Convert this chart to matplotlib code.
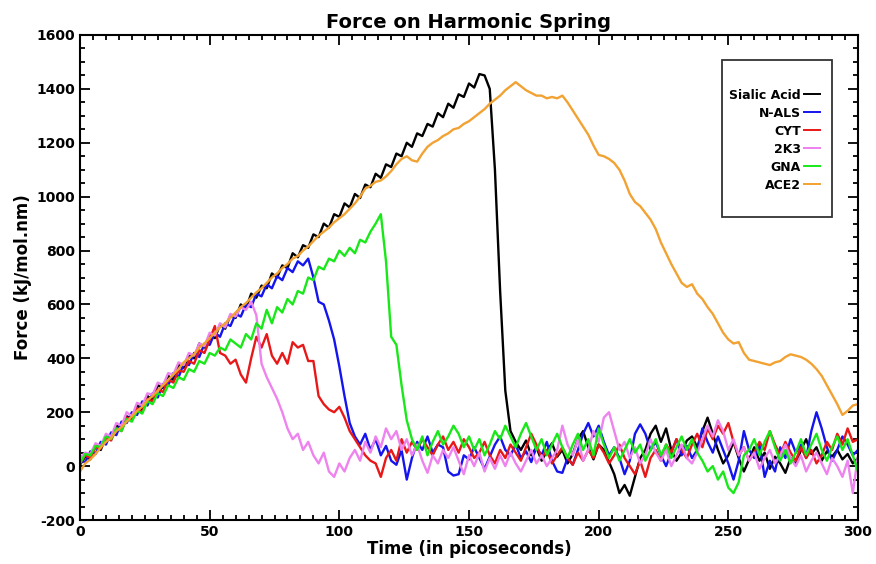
import numpy as np
import matplotlib
matplotlib.use('Agg')
import matplotlib.pyplot as plt
from matplotlib.ticker import MultipleLocator
from matplotlib.patches import Rectangle

plt.rcParams['font.family'] = ['DejaVu Sans']
plt.rcParams['font.weight'] = 'bold'
plt.rcParams['axes.unicode_minus'] = False

# time axis, one sample every 2 ps
TIME = list(range(0, 301, 2))

SIALIC_ACID = [
    5, 35, 25, 80, 60, 110, 100, 150, 140, 185,
    175, 225, 210, 260, 245, 300, 290, 335, 320, 375,
    365, 410, 400, 455, 440, 485, 475, 525, 510, 560,
    550, 600, 585, 640, 625, 670, 660, 715, 700, 745,
    735, 790, 775, 820, 810, 860, 850, 900, 885, 935,
    925, 975, 960, 1010, 995, 1045, 1035, 1085, 1070, 1120,
    1110, 1160, 1150, 1200, 1185, 1235, 1225, 1270, 1260, 1310,
    1295, 1345, 1330, 1380, 1370, 1420, 1405, 1455, 1450, 1400,
    1100, 650, 280, 130, 90, 60, 95, 40, 70, 20,
    55, 85, 35, 60, 10, 45, 100, 130, 70, 25,
    80, 60, 15, -30, -100, -70, -110, -40, 30, 60,
    120, 150, 90, 140, 60, 20, 50, 95, 110, 70,
    130, 180, 120, 60, 10, 40, 90, 30, -20, 25,
    70, 20, 50, -10, 35, 10, -25, 30, 5, 60,
    100, 45, 70, 20, 55, 35, 60, 25, 45, 10,
    30]

N_ALS = [
    20, 15, 55, 45, 90, 80, 125, 115, 165, 160,
    200, 190, 240, 225, 270, 255, 305, 300, 345, 330,
    380, 375, 420, 405, 455, 450, 495, 480, 530, 520,
    565, 555, 600, 590, 640, 630, 675, 660, 705, 690,
    735, 720, 760, 745, 770, 700, 610, 600, 540, 470,
    370, 260, 160, 110, 80, 120, 60, 100, 40, 75,
    20, 5, 60, -50, 30, 90, 60, 110, 50, 80,
    70, -20, -35, -30, 40, 25, 70, 30, -10, 35,
    80, 110, 60, 40, 80, 30, 55, 15, 70, 40,
    90, 20, -20, -25, 30, 5, 60, 120, 160, 110,
    150, 90, 40, 70, 30, -30, 20, 120, 155, 120,
    60, 90, 40, 0, 50, 100, 40, 75, 30, 60,
    140, 90, 50, 110, 60, 10, -50, 20, 130, 60,
    30, 80, -40, 20, -20, 70, 30, 100, 50, 80,
    30, 130, 200, 140, 70, 20, 60, 110, 80, 40,
    60]

CYT = [
    10, 40, 30, 70, 65, 105, 95, 140, 130, 180,
    170, 215, 200, 250, 240, 285, 275, 320, 310, 355,
    350, 390, 380, 430, 420, 470, 520, 420, 410, 380,
    395, 340, 310, 400, 480, 440, 490, 410, 380, 420,
    380, 460, 440, 450, 390, 390, 260, 230, 210, 200,
    220, 180, 130, 100, 70, 40, 20, 10, -40, 30,
    60, 20, 100, 50, 90, 60, 100, 70, 40, 80,
    110, 60, 90, 50, 100, 70, 30, 50, 90, 40,
    10, 60, 30, 80, 50, 20, 70, 120, 80, 30,
    60, 10, 40, 70, 30, 5, 50, 20, 60, 30,
    80, 50, 10, 40, 80, 30, 0, -30, 20, -40,
    30, 60, 20, 80, 50, 100, 60, 30, 80, 120,
    70, 140, 100, 150, 120, 160, 90, 40, 70, 20,
    50, 90, 60, 130, 80, 40, 90, 50, 20, 70,
    30, 60, 10, 40, 90, 60, 120, 80, 140, 90,
    100]

K2K3 = [
    30, 50, 45, 85, 75, 120, 110, 160, 150, 200,
    185, 235, 225, 270, 265, 310, 300, 345, 340, 385,
    375, 420, 410, 455, 445, 495, 485, 530, 515, 565,
    555, 590, 580, 610, 560, 380, 330, 290, 250, 200,
    140, 100, 120, 60, 90, 40, 10, 50, -20, -40,
    10, -20, 30, 60, 20, 90, 50, 110, 70, 140,
    100, 130, 60, 100, 40, 80, 20, -25, 40, 10,
    60, 30, 70, 20, -30, 40, 0, 50, -20, 30,
    -10, 40, 0, 50, 10, -20, 20, 60, 10, 40,
    0, 30, 60, 150, 80, 40, 100, 20, 60, 130,
    90, 180, 200, 130, 60, 90, 30, 70, 10, 40,
    100, 50, 20, 60, 0, 40, 80, 30, 10, 50,
    100, 150, 110, 170, 130, 60, 100, 40, 70, 20,
    50, -10, 30, 60, 10, 40, 80, 30, 0, 40,
    -20, 20, 50, 10, -30, 30, 0, -40, 20, -100,
    40]

GNA = [
    10, 45, 40, 75, 70, 110, 100, 140, 130, 175,
    165, 205, 195, 240, 230, 270, 260, 300, 290, 330,
    320, 360, 350, 390, 380, 420, 410, 440, 430, 470,
    455, 440, 490, 470, 530, 510, 580, 530, 590, 570,
    620, 600, 650, 640, 700, 690, 740, 730, 770, 760,
    800, 780, 810, 790, 840, 830, 870, 900, 935, 760,
    480, 450, 300, 170, 100, 60, 110, 40, 90, 130,
    80, 110, 150, 120, 70, 110, 60, 100, 40, 80,
    130, 100, 150, 110, 70, 120, 160, 110, 60, 100,
    40, 80, 120, 70, 30, 80, 120, 60, 100, 40,
    140, 80, 30, 70, 20, 60, 100, 50, 80, 20,
    60, 100, 40, 80, 30, 70, 110, 60, 100, 50,
    20, -20, 0, -50, -20, -80, -100, -60, 40, 60,
    100, 40, 90, 130, 70, 20, 60, 10, 50, 100,
    40, 80, 120, 60, 20, 70, 110, 60, 100, 40,
    -20]

ACE2 = [
    -20, 10, 25, 45, 70, 90, 105, 130, 145, 165,
    185, 205, 220, 245, 260, 280, 300, 320, 340, 360,
    385, 400, 415, 440, 455, 475, 495, 515, 530, 550,
    570, 590, 605, 625, 645, 660, 680, 700, 715, 735,
    750, 770, 780, 800, 815, 835, 855, 870, 885, 905,
    920, 935, 955, 975, 1000, 1030, 1040, 1055, 1060, 1075,
    1095, 1120, 1140, 1150, 1135, 1130, 1160, 1185, 1200, 1210,
    1225, 1235, 1250, 1255, 1270, 1280, 1295, 1310, 1325, 1345,
    1360, 1375, 1395, 1410, 1425, 1410, 1395, 1385, 1375, 1375,
    1365, 1370, 1365, 1375, 1350, 1320, 1290, 1260, 1230, 1190,
    1155, 1150, 1140, 1125, 1100, 1060, 1010, 980, 965, 940,
    915, 880, 830, 790, 750, 715, 680, 665, 675, 640,
    620, 590, 565, 530, 495, 470, 455, 460, 420, 395,
    390, 385, 380, 375, 385, 390, 405, 415, 410, 405,
    395, 380, 360, 335, 300, 265, 230, 190, 205, 225,
    230]

SERIES = [
    ('Sialic Acid', SIALIC_ACID, '#000000'),
    ('N-ALS', N_ALS, '#1414ee'),
    ('CYT', CYT, '#e81818'),
    ('2K3', K2K3, '#ee82ee'),
    ('GNA', GNA, '#18e818'),
    ('ACE2', ACE2, '#f2a232'),
]

fig = plt.figure(figsize=(8.76, 5.64), dpi=100)
ax = fig.add_axes([80 / 876, 1 - 520 / 564, 778 / 876, 485 / 564])

for name, vals, col in SERIES:
    ax.plot(TIME, vals, color=col, lw=1.7, label=name)

ax.set_xlim(0, 300)
ax.set_ylim(-200, 1600)
ax.xaxis.set_major_locator(MultipleLocator(50))
ax.xaxis.set_minor_locator(MultipleLocator(5))
ax.yaxis.set_major_locator(MultipleLocator(200))
ax.yaxis.set_minor_locator(MultipleLocator(50))
ax.tick_params(which='both', direction='in', top=True, right=True,
               labelsize=10, width=1.3)
ax.tick_params(which='major', length=7)
ax.tick_params(which='minor', length=3.5)
for s in ax.spines.values():
    s.set_linewidth(1.5)

ax.set_title('Force on Harmonic Spring', fontsize=14, fontweight='bold', pad=5)
ax.set_xlabel('Time (in picoseconds)', fontsize=12, fontweight='bold', labelpad=1)
ax.set_ylabel('Force (kJ/mol.nm)', fontsize=12, fontweight='bold', labelpad=3)

# legend box drawn separately so it can stay tall with empty room
ax.add_patch(Rectangle((0.825, 0.625), 0.1415, 0.323, transform=ax.transAxes,
                       fill=False, edgecolor='#333333', lw=1.3, zorder=5))
leg = ax.legend(loc='center right', bbox_to_anchor=(0.963, 0.783), frameon=False,
                markerfirst=False, handlelength=1.3, handletextpad=0.25,
                labelspacing=0.4, borderpad=0.2, prop={'weight': 'bold', 'size': 9.0})
for h in leg.legend_handles:
    h.set_linewidth(1.4)

fig.savefig('out.png', dpi=100)
